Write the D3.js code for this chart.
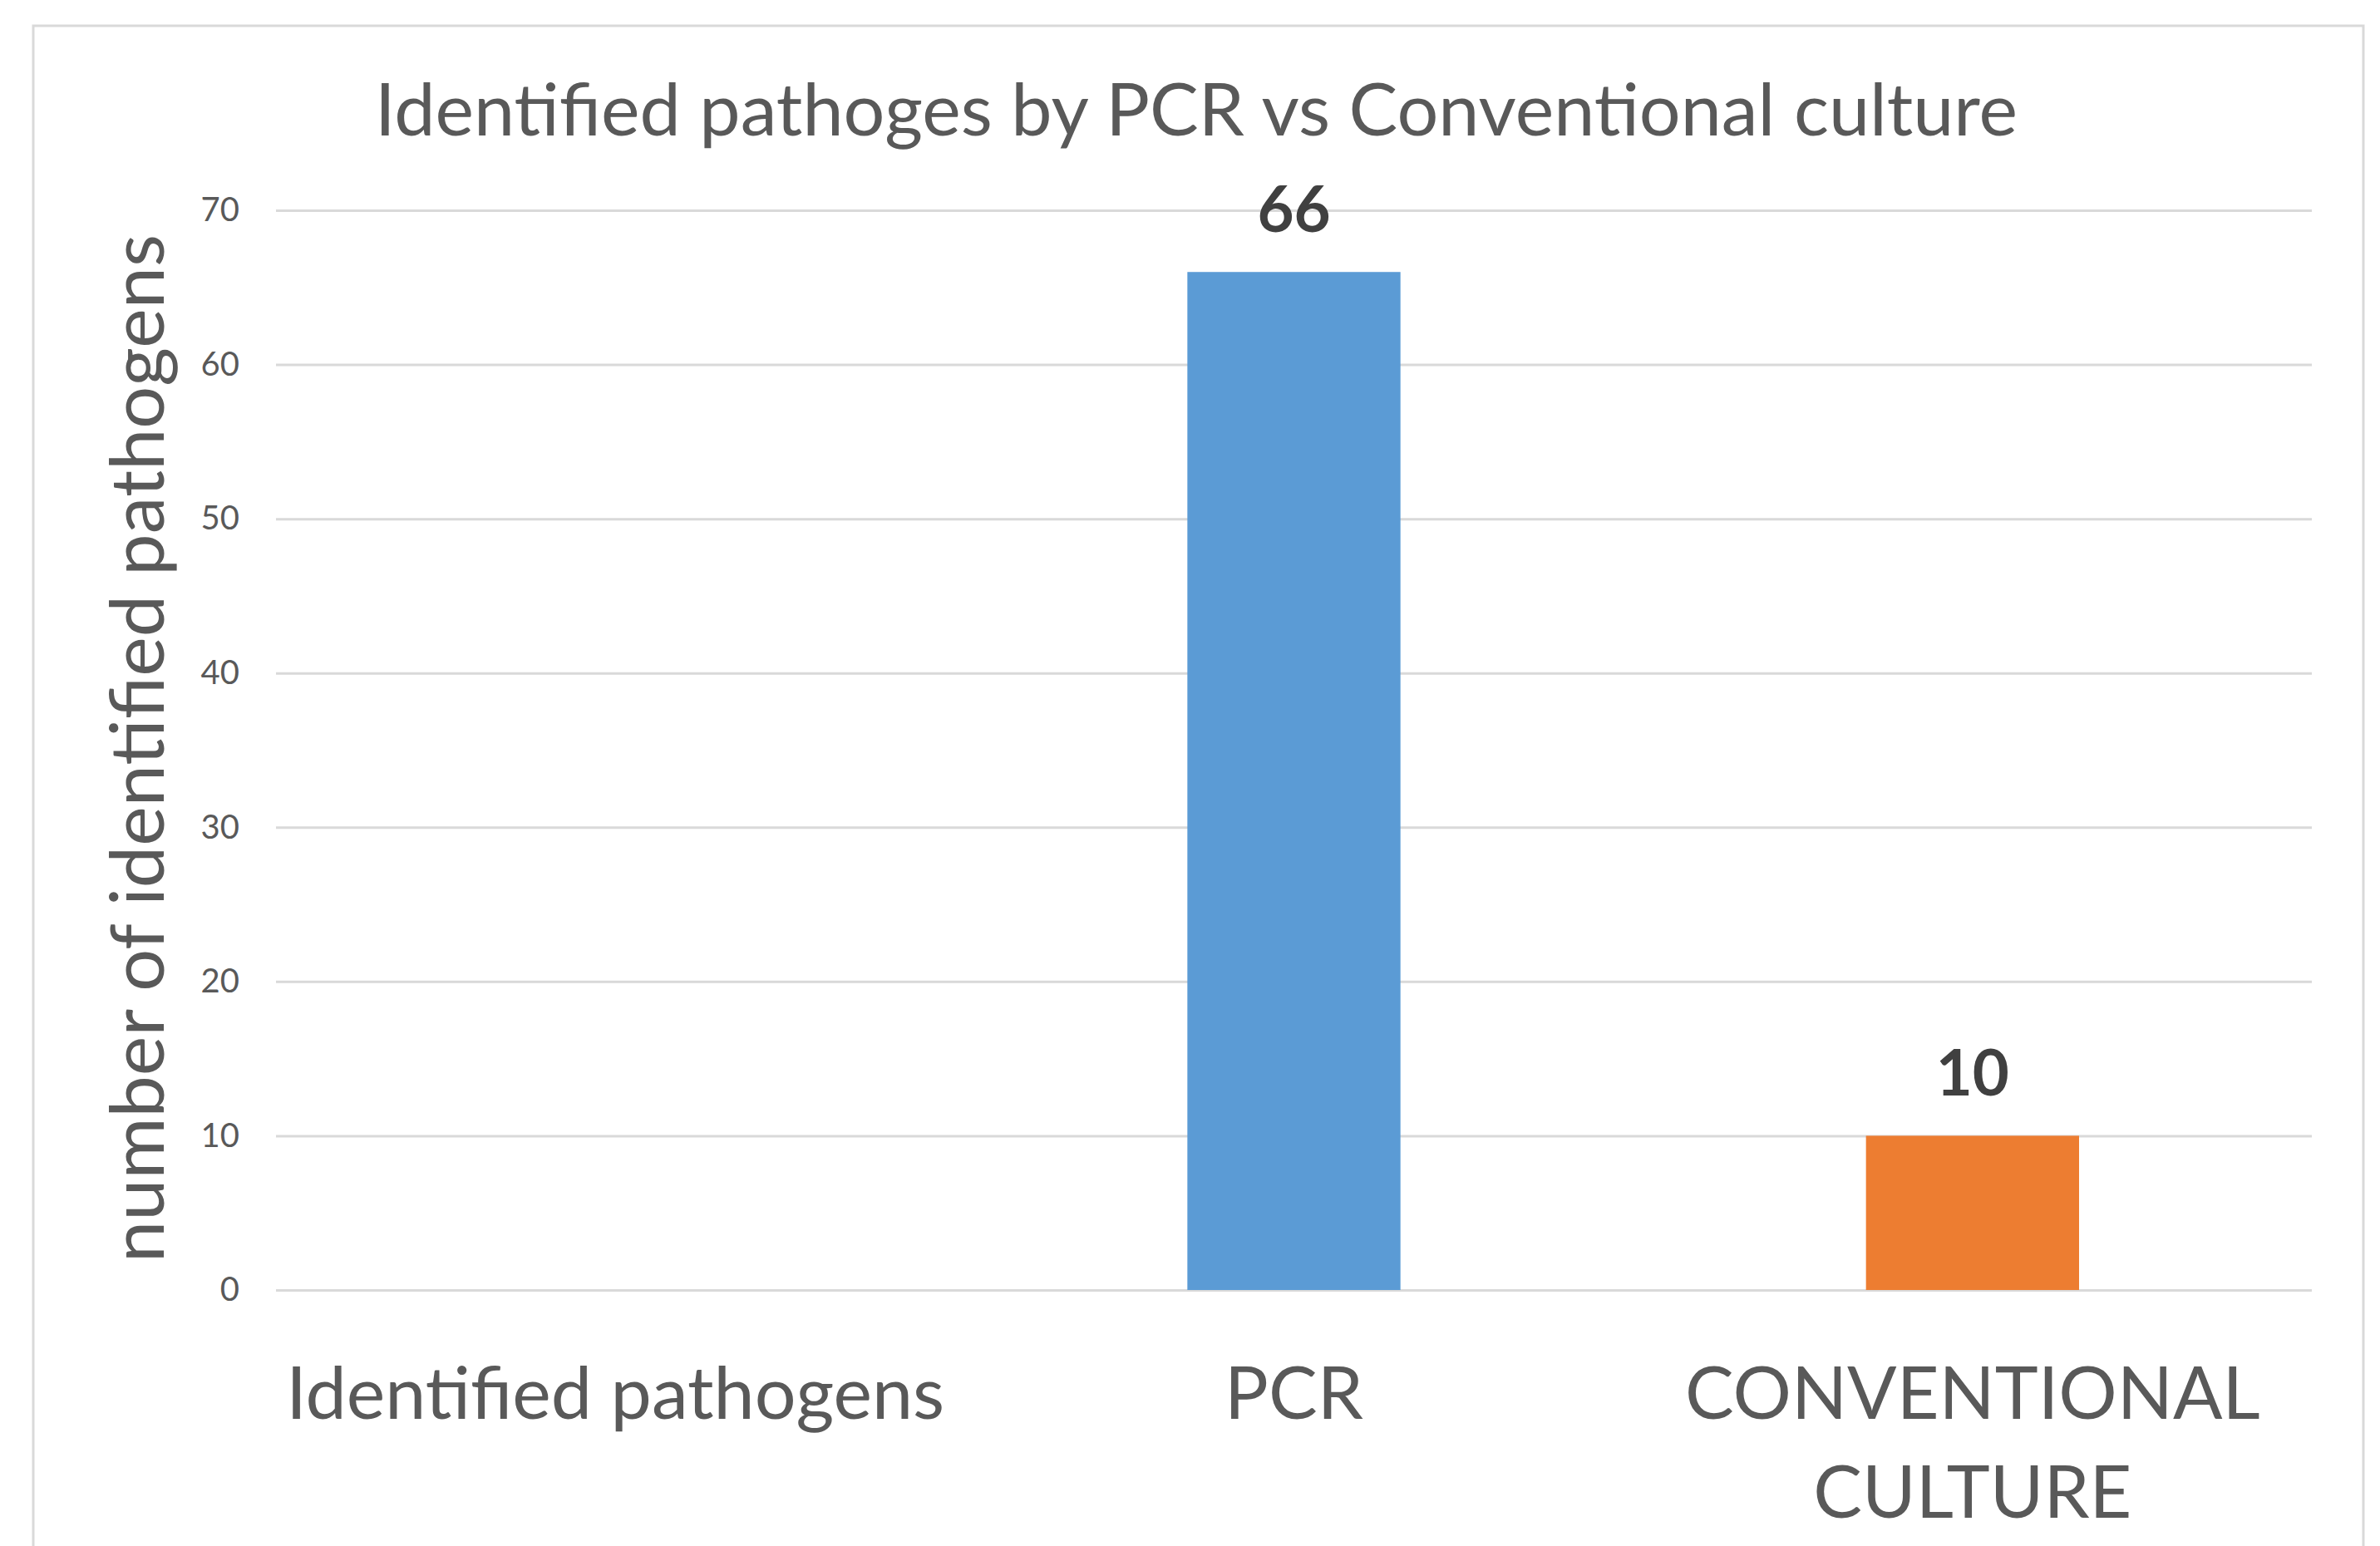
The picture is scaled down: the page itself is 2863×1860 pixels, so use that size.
<!DOCTYPE html>
<html>
<head>
<meta charset="utf-8">
<script src="https://cdn.jsdelivr.net/npm/d3@7"></script>
<style>
  html, body { margin: 0; padding: 0; background: #fff; }
  svg { display: block; }
  text { font-family: Lato, "Open Sans", sans-serif; }
</style>
</head>
<body>
<svg id="chart"></svg>
<script>
// chart data
const categories = ['Identified pathogens', 'PCR', 'CONVENTIONAL\nCULTURE'];
const values = [null, 66, 10];
const barColors = ['#5B9BD5', '#5B9BD5', '#ED7D31'];
const yTicks = [0, 10, 20, 30, 40, 50, 60, 70];
const title = 'Identified pathoges by PCR vs Conventional culture';
const yTitle = 'number of identified pathogens';

const W = 2863, H = 1860;
const margin = { top: 253, right: 82, bottom: 308, left: 332 };
const width = W - margin.left - margin.right;
const height = H - margin.top - margin.bottom;

const svg = d3.select('#chart').attr('width', W).attr('height', H);

// outer frame (bottom edge runs off the picture)
svg.append('rect')
    .attr('x', 40).attr('y', 31)
    .attr('width', 2803).attr('height', 1900)
    .attr('fill', 'none')
    .attr('stroke', '#d9d9d9')
    .attr('stroke-width', 3);

svg.append('text')
    .attr('x', 1439).attr('y', 163)
    .attr('text-anchor', 'middle')
    .attr('font-size', 88)
    .attr('fill', '#595959')
    .text(title);

const g = svg.append('g')
    .attr('transform', 'translate(' + margin.left + ',' + margin.top + ')');

const x = d3.scaleBand()
    .domain(categories)
    .range([0, width])
    .padding(0);

const y = d3.scaleLinear()
    .domain([0, 70])
    .range([height, 0]);

// y axis + gridlines
const yAxis = g.append('g')
    .call(d3.axisLeft(y).tickValues(yTicks).tickSizeInner(-width).tickSizeOuter(0).tickPadding(44));
yAxis.select('.domain').remove();
yAxis.selectAll('line').attr('stroke', '#d9d9d9').attr('stroke-width', 3);
yAxis.selectAll('text')
    .attr('font-size', 40)
    .attr('font-family', 'Lato, sans-serif')
    .attr('fill', '#595959');

// bars
const barW = x.bandwidth() * 0.314;
const data = categories.map((c, i) => ({ cat: c, val: values[i], color: barColors[i] }))
    .filter(d => d.val != null);

g.selectAll('.bar')
    .data(data)
    .enter().append('rect')
    .attr('class', 'bar')
    .attr('x', d => x(d.cat) + (x.bandwidth() - barW) / 2)
    .attr('y', d => y(d.val))
    .attr('width', barW)
    .attr('height', d => height - y(d.val))
    .attr('fill', d => d.color);

// value labels
g.selectAll('.val')
    .data(data)
    .enter().append('text')
    .attr('class', 'val')
    .attr('x', d => x(d.cat) + x.bandwidth() / 2)
    .attr('y', d => y(d.val) - 48)
    .attr('text-anchor', 'middle')
    .attr('font-size', 76)
    .attr('font-weight', 'bold')
    .attr('fill', '#404040')
    .text(d => d.val);

// category labels
const xl = g.selectAll('.xlab')
    .data(categories)
    .enter().append('text')
    .attr('class', 'xlab')
    .attr('text-anchor', 'middle')
    .attr('font-size', 88)
    .attr('fill', '#595959');
xl.selectAll('tspan')
    .data(d => d.split('\n').map(s => ({ s: s, cx: x(d) + x.bandwidth() / 2 })))
    .enter().append('tspan')
    .attr('x', d => d.cx)
    .attr('y', (d, i) => height + 155 + i * 119)
    .text(d => d.s);

// y title
svg.append('text')
    .attr('transform', 'translate(197,' + (margin.top + height / 2 - 2) + ') rotate(-90)')
    .attr('text-anchor', 'middle')
    .attr('font-size', 90)
    .attr('fill', '#595959')
    .text(yTitle);
</script>
</body>
</html>
